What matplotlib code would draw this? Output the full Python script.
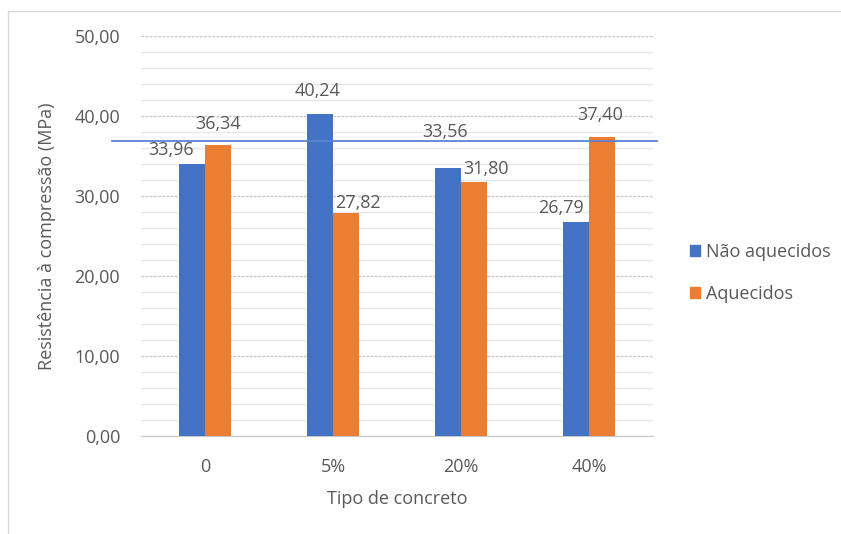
import numpy as np
import matplotlib.pyplot as plt
from matplotlib.lines import Line2D
from matplotlib.patches import Patch

# Dados do ensaio de compressão
tipos = ["0", "5%", "20%", "40%"]
nao_aquecidos = [33.96, 40.24, 33.56, 26.79]
aquecidos = [36.34, 27.82, 31.80, 37.40]
linha_ref = 36.875

# deslocamento dos rótulos (pixels) para não sobrepor
desl_nao = [(-21, 14), (-3, 23), (-3, 36), (-15, 14)]
desl_aq = [(0, 21), (12, 10), (12, 13), (-2, 22)]

cinza = "#595959"
azul = "#4472C4"
laranja = "#ED7D31"

plt.rcParams["font.family"] = ["Open Sans", "DejaVu Sans"]
plt.rcParams["font.size"] = 13

fig = plt.figure(figsize=(8.41, 5.34), dpi=100)
ax = fig.add_axes([0.1677, 0.1835, 0.6088, 0.7491])

x = np.arange(len(tipos))
w = 0.2
ax.bar(x - w / 2, nao_aquecidos, w, color=azul, zorder=3)
ax.bar(x + w / 2, aquecidos, w, color=laranja, zorder=3)

px = 72 / 100
for i in range(len(tipos)):
    ax.annotate(f"{nao_aquecidos[i]:.2f}".replace(".", ","), (x[i] - w / 2, nao_aquecidos[i]),
                xytext=(desl_nao[i][0] * px, desl_nao[i][1] * px), textcoords="offset points",
                ha="center", va="center", color=cinza, zorder=5)
    ax.annotate(f"{aquecidos[i]:.2f}".replace(".", ","), (x[i] + w / 2, aquecidos[i]),
                xytext=(desl_aq[i][0] * px, desl_aq[i][1] * px), textcoords="offset points",
                ha="center", va="center", color=cinza, zorder=5)

# linha horizontal de referência
ax.plot([-0.727, 3.53], [linha_ref, linha_ref], color="#5B82D3", lw=1.3, clip_on=False, zorder=4)

ax.set_xlim(-0.5, 3.5)
ax.set_ylim(0, 50)
ax.set_yticks(np.arange(0, 51, 10))
ax.set_yticklabels([f"{v:.2f}".replace(".", ",") for v in np.arange(0, 51, 10)])
ax.set_yticks(np.arange(0, 51, 2), minor=True)
ax.set_xticks(x)
ax.set_xticklabels(tipos)

ax.grid(axis="y", which="minor", color="#E8E8E8", lw=1, zorder=0)
ax.grid(axis="y", which="major", color="#C8C8C8", lw=1, ls=(0, (2, 1)), zorder=1)
ax.set_axisbelow(True)
for s in ["top", "right", "left"]:
    ax.spines[s].set_visible(False)
ax.spines["bottom"].set_color("#C8C8C8")
ax.spines["bottom"].set_linestyle((0, (2, 1)))
ax.tick_params(axis="both", which="both", length=0, colors=cinza)
ax.tick_params(axis="y", pad=15)
ax.tick_params(axis="x", pad=16)

ax.set_xlabel("Tipo de concreto", color=cinza, labelpad=10)
ax.set_ylabel("Resistência à compressão (MPa)", color=cinza, labelpad=13)

handles = [Patch(color=azul), Patch(color=laranja)]
ax.legend(handles, ["Não aquecidos", "Aquecidos"], loc="center left",
          bbox_to_anchor=(1.04, 0.4075), frameon=False, handlelength=0.55, handleheight=0.55,
          handletextpad=0.35, labelspacing=1.3, labelcolor=cinza)

# borda da área do gráfico
fig.add_artist(Line2D([8 / 841, 8 / 841], [0, 1 - 11 / 534], color="#D9D9D9", lw=1))
fig.add_artist(Line2D([8 / 841, 1], [1 - 11 / 534, 1 - 11 / 534], color="#D9D9D9", lw=1))

fig.savefig("out.png", dpi=100, facecolor="white")
